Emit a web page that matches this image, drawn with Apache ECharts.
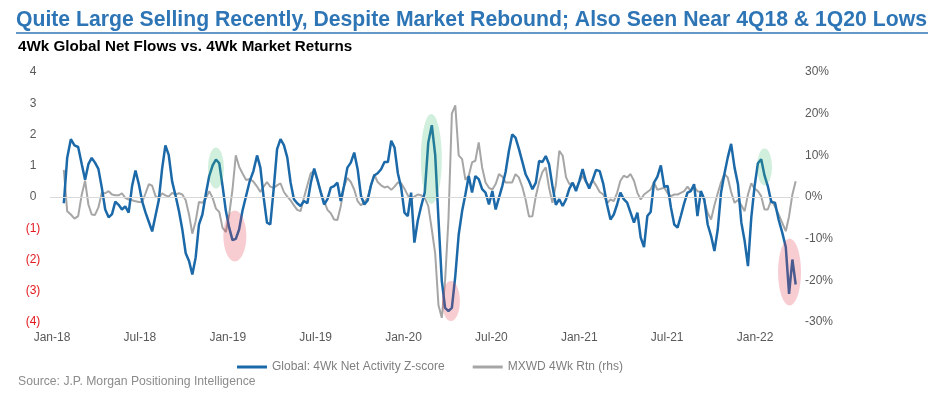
<!DOCTYPE html>
<html>
<head>
<meta charset="utf-8">
<script src="https://cdn.jsdelivr.net/npm/echarts@6/dist/echarts.min.js"></script>
<style>
  html, body { margin: 0; padding: 0; background: #fff; }
  #chart { width: 933px; height: 398px; }
</style>
</head>
<body>
<div id="chart"></div>
<script>
// weekly observations, first one on this date
const startDate = '2018-01-26'

// Global: 4Wk Net Activity Z-score (lhs)
const netActivityZ = [
  -0.2, 1.25, 1.85, 1.65, 1.6, 1.05, 0.55, 1.05, 1.25, 1.1,
  0.9, 0.3, -0.4, -0.65, -0.55, -0.15, -0.25, -0.4, -0.3, -0.5,
  0.35, 0.85, 0.4, -0.15, -0.5, -0.8, -1.1, -0.6, -0.1, 0.9,
  1.65, 1.35, 0.5, 0.05, -0.45, -1.05, -1.8, -2.05, -2.48, -1.94,
  -0.88, -0.56, 0.09, 0.67, 1.01, 1.2, 1.08, 0.35, -0.45, -0.98,
  -1.38, -1.34, -1.04, -0.45, 0.03, 0.51, 0.83, 1.33, 0.94, -0.02,
  -0.82, -0.88, 0.25, 1.53, 1.85, 1.66, 1.26, 0.46, -0.07, -0.2,
  -0.29, -0.13, -0.2, 0.45, 0.91, 0.54, 0.14, -0.24, -0.07, 0.3,
  0.35, 0.46, -0.13, 0.35, 0.94, 1.1, 1.42, 0.89, 0.03, -0.24,
  -0.11, 0.37, 0.69, 0.76, 0.89, 1.12, 1.12, 1.8, 1.58, 0.76,
  0.3, -0.5, -0.61, 0.14, -1.46, -0.77, -0.29, 0.14, 1.74, 2.3,
  1.35, -0.72, -2.69, -3.55, -3.65, -3.55, -2.53, -1.2, -0.45, 0.09,
  0.67, 0.14, 0.67, 0.57, 0.25, 0.14, -0.24, 0.19, -0.4, -0.02,
  0.35, 0.8, 1.47, 2.0, 1.9, 1.55, 1.15, 0.73, 0.51, 0.25,
  0.46, 1.15, 1.12, 1.31, 1.05, 0.35, -0.25, -0.07, -0.29, -0.07,
  0.27, 0.46, 0.19, 0.51, 0.89, 0.51, 0.27, 0.54, 0.87, 0.83,
  0.41, -0.24, -0.72, -0.56, -0.24, 0.14, -0.07, -0.18, -0.5, -0.82,
  -0.5, -1.3, -1.6, -0.61, -0.48, 0.46, 0.65, 1.01, 0.33, 0.35,
  -0.34, -0.88, -0.98, -0.6, -0.2, 0.14, 0.19, 0.41, -0.61, 0.19,
  -0.07, -0.88, -1.25, -1.73, -1.04, 0.14, 0.73, 1.26, 1.7, 0.94,
  0.41, -0.82, -1.41, -2.21, -0.66, 0.35, 1.08, 1.21, 0.69, 0.35,
  -0.16, -0.18, -0.72, -1.14, -1.6, -3.1, -2.0, -2.8
]

// MXWD 4Wk Rtn, % (rhs)
const mxwdReturn = [
  6.5, -3.4, -4.2, -5.2, -4.6, 0.6, 3.9, -1.8, -4.2, -4.3,
  -2.5, 1.0, 0.9, 1.4, 0.6, 0.4, 0.4, 0.9, -0.2, -0.6,
  -0.8, -1.0, -1.2, -1.2, 0.9, 3.1, 2.7, 0.2, -0.2, 0.9,
  0.4, 0.1, 1.0, 0.6, 0.9, 0.6, -0.8, -4.2, -8.8, -5.8,
  -1.2, -1.4, -0.4, 1.4, -0.2, -2.8, -3.6, -7.4, -8.4, -4.2,
  1.8, 10.0, 7.3, 5.7, 4.1, 4.3, 3.7, 2.5, 1.2, 2.5,
  3.6, 2.5, 2.2, 2.8, 3.3, 1.2, 0.1, -0.8, -2.0, -3.1,
  -3.4, -0.2, 2.8, 5.7, 6.3, 3.9, 1.2, -1.0, -3.1, -3.9,
  -5.4, -5.5, -2.3, 2.5, 4.6, 3.6, 1.8, -1.0, -2.0, -1.2,
  -0.2, 2.8, 5.4, 3.6, 2.8, 2.3, 2.5, 1.7, 2.5, 3.5,
  3.3, 2.0, 0.4, -0.6, 0.1, 0.6, 0.4, -0.2, -2.2, -7.8,
  -13.6, -26, -29, -20, -5.4, 20, 22, 10, 9.1, 4.1,
  5.1, 8.3, 8.7, 13.1, 7.1, 3.5, 2.2, 1.8, 3.1, 5.5,
  4.9, 3.5, 3.5, 3.5, 5.5, 4.7, 2.5, -0.6, -4.7, -4.6,
  0.2, 3.6, 6.0, 7.1, 2.2, -1.4, 3.0, 11.1, 9.9, 4.7,
  3.1, 3.3, 2.0, 3.6, 5.1, 3.6, 2.7, 4.1, 2.8, 1.2,
  0.6, -1.5, -0.6, -1.0, 1.0, 3.9, 5.1, 4.7, 5.5, 3.9,
  1.0, -0.6, 0.6, 1.2, 1.8, 3.5, 1.7, 2.0, 2.2, 0.9,
  0.2, 0.6, 0.6, 1.0, 1.4, 2.5, 1.4, 2.5, 1.4, 1.2,
  -1.0, -3.8, -5.4, -2.0, 0.9, 3.5, 5.5, 4.7, 1.2, -1.4,
  -0.7, -2.0, -3.4, 0.6, 3.3, 2.0, 1.4, 0.2, -3.0, -3.0,
  -0.7, -2.3, -4.2, -6.2, -8.2, -4.6, 0.6, 3.8
]

// x tick labels, at months counted from Jan-18
const xTickMonths = [0, 6, 12, 18, 24, 30, 36, 42, 48]
const xTickLabels = ['Jan-18', 'Jul-18', 'Jan-19', 'Jul-19', 'Jan-20', 'Jul-20', 'Jan-21', 'Jul-21', 'Jan-22']

// highlighted episodes: [date, z-score at centre]
const buyHighlights = [['2018-12-07', 0.93], ['2020-02-27', 1.22], ['2022-01-21', 0.96]]
const sellHighlights = [['2019-01-16', -1.25], ['2020-04-08', -3.33], ['2022-03-12', -2.4]]

// months since 1 Jan 2018 (fractional)
function toMonth(d) {
  const y = d.getUTCFullYear(), m = d.getUTCMonth(), day = d.getUTCDate()
  const dim = new Date(Date.UTC(y, m + 1, 0)).getUTCDate()
  return (y - 2018) * 12 + m + (day - 1) / dim
}
function parseDate(s) {
  const p = s.split('-').map(Number)
  return new Date(Date.UTC(p[0], p[1] - 1, p[2]))
}

const t0 = parseDate(startDate).getTime()
const weekMonths = netActivityZ.map((v, i) => toMonth(new Date(t0 + i * 7 * 86400000)))

const blueData = netActivityZ.map((v, i) => [weekMonths[i], v])
const grayData = mxwdReturn.map((v, i) => [weekMonths[i], v])

// ellipse sizes (px) for the highlights
const buySizes = [[16, 41], [21, 90], [15, 37]]
const sellSizes = [[23, 51], [18, 40], [23, 67]]

const myChart = echarts.init(document.getElementById('chart'))

const option = {
  backgroundColor: '#fff',
  animation: false,
  textStyle: { fontFamily: 'Liberation Sans, Arial, sans-serif' },
  title: [
    {
      text: 'Quite Large Selling Recently, Despite Market Rebound; Also Seen Near 4Q18 & 1Q20 Lows',
      left: 11,
      top: 5,
      textStyle: { color: '#2e75b6', fontSize: 21.2, fontWeight: 'bold', fontFamily: 'Liberation Sans' }
    },
    {
      text: '4Wk Global Net Flows vs. 4Wk Market Returns',
      left: 13,
      top: 34,
      textStyle: { color: '#000', fontSize: 15.2, fontWeight: 'bold', fontFamily: 'Liberation Sans' }
    },
    {
      text: 'Source: J.P. Morgan Positioning Intelligence',
      left: 13,
      top: 371,
      textStyle: { color: '#8c8c8c', fontSize: 12.2, fontWeight: 'normal', fontFamily: 'Liberation Sans Narrow, Arial Narrow, sans-serif' }
    }
  ],
  graphic: [
    {
      type: 'line',
      shape: { x1: 16, y1: 33, x2: 928, y2: 33 },
      style: { stroke: '#2e75b6', lineWidth: 1.5 },
      silent: true
    }
  ],
  legend: {
    left: 232,
    top: 356,
    icon: 'rect',
    itemWidth: 30,
    itemHeight: 3,
    itemGap: 28,
    textStyle: { color: '#7f7f7f', fontSize: 12, fontFamily: 'Liberation Sans Narrow, Arial Narrow, sans-serif' },
    data: ['Global: 4Wk Net Activity Z-score', 'MXWD 4Wk Rtn (rhs)']
  },
  grid: { left: 50, right: 134, top: 72, bottom: 76 },
  xAxis: {
    type: 'value',
    min: -0.137,
    max: 51,
    splitLine: { show: false },
    axisLine: { show: false },
    axisTick: { show: false },
    axisLabel: {
      customValues: xTickMonths,
      formatter: v => xTickLabels[xTickMonths.indexOf(Math.round(v))] || '',
      color: '#595959',
      fontSize: 12,
      margin: 10
    }
  },
  yAxis: [
    {
      type: 'value',
      min: -4,
      max: 4,
      interval: 1,
      splitLine: { show: false },
      axisLine: { show: false },
      axisTick: { show: false },
      axisLabel: {
        align: 'center',
        margin: 17,
        fontSize: 12,
        color: v => (Number(v) < 0 ? '#e3191f' : '#595959'),
        formatter: v => (v < 0 ? '(' + (-v) + ')' : String(v))
      }
    },
    {
      type: 'value',
      min: -30,
      max: 30,
      interval: 10,
      position: 'right',
      splitLine: { show: false },
      axisLine: { show: false },
      axisTick: { show: false },
      axisLabel: {
        align: 'left',
        margin: 6,
        fontSize: 12,
        color: '#595959',
        formatter: '{value}%'
      }
    }
  ],
  series: [
    {
      name: 'MXWD 4Wk Rtn (rhs)',
      type: 'line',
      yAxisIndex: 1,
      data: grayData,
      showSymbol: false,
      symbol: 'none',
      z: 2,
      lineStyle: { color: '#a6a6a6', width: 2 },
      itemStyle: { color: '#a6a6a6' },
      markLine: {
        silent: true,
        symbol: 'none',
        label: { show: false },
        lineStyle: { color: '#d9d9d9', width: 1, type: 'solid' },
        data: [{ yAxis: 0 }]
      }
    },
    {
      name: 'Global: 4Wk Net Activity Z-score',
      type: 'line',
      yAxisIndex: 0,
      data: blueData,
      showSymbol: false,
      symbol: 'none',
      z: 3,
      lineStyle: { color: '#1b69a8', width: 2.5 },
      itemStyle: { color: '#1b69a8' }
    },
    {
      type: 'scatter',
      yAxisIndex: 0,
      silent: true,
      z: 5,
      data: buyHighlights.map((h, i) => ({
        value: [toMonth(parseDate(h[0])), h[1]],
        symbolSize: buySizes[i]
      })),
      itemStyle: { color: 'rgba(60, 190, 110, 0.3)' }
    },
    {
      type: 'scatter',
      yAxisIndex: 0,
      silent: true,
      z: 5,
      data: sellHighlights.map((h, i) => ({
        value: [toMonth(parseDate(h[0])), h[1]],
        symbolSize: sellSizes[i]
      })),
      itemStyle: { color: 'rgba(225, 50, 70, 0.3)' }
    }
  ]
}

myChart.setOption(option)
window.addEventListener('resize', () => myChart.resize())
</script>
</body>
</html>
